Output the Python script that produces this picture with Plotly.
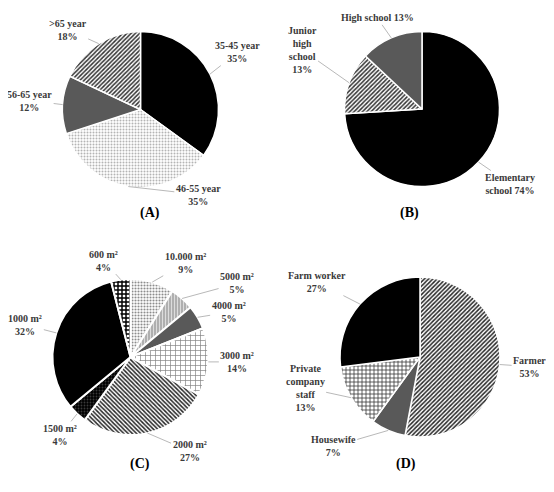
import math
import plotly.graph_objects as go

# reference canvas and the 8px body margin of the html page
W, H = 554, 492
PAGE = 8
FW, FH = W - PAGE, H - 2 * PAGE

# (A) age of respondents
age_labels = ['35-45 year', '46-55 year', '56-65 year', '>65 year']
age_values = [35, 35, 12, 18]

# (B) education level
edu_labels = ['Elementary<br>school', 'Junior<br>high<br>school', 'High school']
edu_values = [74, 13, 13]

# (C) land area
land_labels = ['10.000 m²', '5000 m²', '4000 m²', '3000 m²', '2000 m²', '1500 m²', '1000 m²', '600 m²']
land_values = [9, 5, 5, 14, 27, 4, 32, 4]

# (D) occupation
job_labels = ['Farmer', 'Housewife', 'Private<br>company<br>staff', 'Farm worker']
job_values = [53, 7, 13, 27]

panel_titles = ['(A)', '(B)', '(C)', '(D)']

FONT = 'Liberation Serif'
LEADER = '#a6a6a6'
TEXT = '#3a3a3a'


def to_paper(x, y):
    return (x - PAGE) / FW, 1 - (y - PAGE) / FH


def domain_of(cx, cy, r):
    x0, y0 = to_paper(cx - r, cy + r)
    x1, y1 = to_paper(cx + r, cy - r)
    return dict(x=[x0, x1], y=[y0, y1])


def pie_trace(labels, values, cx, cy, r, colors, shapes, fg, bg, size, solidity, line_w=1.5):
    return go.Pie(
        labels=labels, values=values, sort=False, direction='clockwise', rotation=0,
        textinfo='none', showlegend=False, domain=domain_of(cx, cy, r),
        marker=dict(colors=colors,
                    line=dict(color='white', width=line_w),
                    pattern=dict(shape=shapes, fgcolor=fg, bgcolor=bg, size=size,
                                 solidity=solidity)))


def leader_labels(labels, values, cx, cy, r, offsets, seps):
    # anchor each label on the pie rim at the middle of its slice
    notes = []
    total = float(sum(values))
    start = 0
    for lab, val, (dx, dy), sep in zip(labels, values, offsets, seps):
        ang = (start + val / 2) / total * 2 * math.pi
        start += val
        px, py = to_paper(cx + r * math.sin(ang), cy - r * math.cos(ang))
        notes.append(dict(
            x=px, y=py, xref='paper', yref='paper',
            ax=dx, ay=dy, text=f'{lab}{sep}{val}%', align='center',
            showarrow=True, arrowhead=0, arrowwidth=0.8, arrowcolor=LEADER, standoff=0,
            font=dict(family=FONT, size=10, color=TEXT, weight='bold')))
    return notes


def run():
    fig = go.Figure()
    notes = []

    # A
    fig.add_trace(pie_trace(age_labels, age_values, 140.5, 109.5, 78,
                            ['#000000', '#ffffff', '#595959', '#ffffff'],
                            ['', '.', '', '/'],
                            ['#000000', '#b4b4b4', '#595959', '#333333'],
                            ['#000000', '#ffffff', '#595959', '#ffffff'],
                            [4, 3, 4, 3], [0.5, 0.35, 0.5, 0.5]))
    notes += leader_labels(age_labels, age_values, 140.5, 109.5, 78,
                           [(28, -22), (70, 8), (-33, -4), (-31, -14)], ['<br>'] * 4)

    # B
    fig.add_trace(pie_trace(edu_labels, edu_values, 422, 109, 77.5,
                            ['#000000', '#ffffff', '#595959'],
                            ['', '/', ''],
                            ['#000000', '#333333', '#595959'],
                            ['#000000', '#ffffff', '#595959'],
                            [4, 3, 4], [0.5, 0.5, 0.5]))
    notes += leader_labels(edu_labels, edu_values, 422, 109, 77.5,
                           [(32, 22), (-47, -33), (-14, -20)], [' ', '<br>', ' '])

    # C
    fig.add_trace(pie_trace(land_labels, land_values, 130.5, 357, 78,
                            ['#ffffff', '#a6a6a6', '#595959', '#ffffff', '#ffffff', '#000000', '#000000', '#ffffff'],
                            ['.', '|', '', '+', '\\', '.', '', '+'],
                            ['#8c8c8c', '#dcdcdc', '#595959', '#808080', '#262626', '#3a3a3a', '#000000', '#000000'],
                            ['#ffffff', '#a6a6a6', '#595959', '#ffffff', '#ffffff', '#000000', '#000000', '#ffffff'],
                            [3, 3, 4, 5, 3, 3, 4, 4], [0.4, 0.45, 0.5, 0.25, 0.5, 0.3, 0.5, 0.6],
                            line_w=2))
    notes += leader_labels(land_labels, land_values, 130.5, 357, 78,
                           [(33, -19), (55, -15), (31, -5), (29, 0), (42, 18), (-17, 21), (-31, -8), (-17, -19)],
                           ['<br>'] * 8)

    # D
    fig.add_trace(pie_trace(job_labels, job_values, 420, 357, 80,
                            ['#ffffff', '#595959', '#ffffff', '#000000'],
                            ['/', '', '+', ''],
                            ['#262626', '#595959', '#333333', '#000000'],
                            ['#ffffff', '#595959', '#ffffff', '#000000'],
                            [3, 4, 4, 4], [0.5, 0.5, 0.35, 0.5]))
    notes += leader_labels(job_labels, job_values, 420, 357, 80,
                           [(30, 2), (-55, 16), (-46, -10), (-43, -22)], ['<br>'] * 4)

    for title, (tx, ty) in zip(panel_titles, [(138, 213), (421, 213), (128, 474), (418, 474)]):
        px, py = to_paper(tx, ty)
        notes.append(dict(x=px, y=py, xref='paper', yref='paper', text=title,
                          showarrow=False, font=dict(family=FONT, size=14, color='black', weight='bold')))

    fig.update_layout(width=FW, height=FH, margin=dict(l=0, r=0, t=0, b=0),
                      paper_bgcolor='white', plot_bgcolor='white', annotations=notes)
    fig.write_html('out.html')


if __name__ == '__main__':
    run()
